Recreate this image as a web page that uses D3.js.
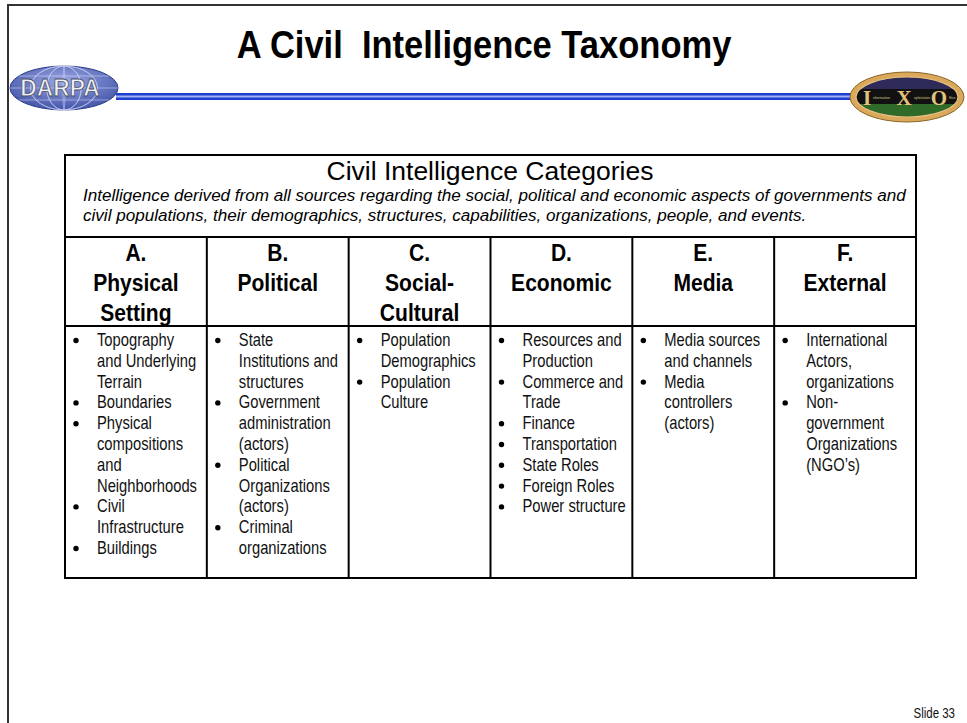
<!DOCTYPE html>
<html><head><meta charset="utf-8">
<script src="https://cdn.jsdelivr.net/npm/d3@7"></script>
<style>
html,body{margin:0;padding:0;background:#fff;}
svg{display:block;}
text{font-family:"Liberation Sans Narrow","Arial Narrow","Liberation Sans",Arial,sans-serif;}
</style></head>
<body>
<svg id="chart" width="967" height="723"></svg>
<script>
// ---- data ----
const slideTitle = "A Civil  Intelligence Taxonomy";
const tableTitle = "Civil Intelligence Categories";
const tableSubtitle = [
  "Intelligence derived from all sources regarding the social, political and economic aspects of governments and",
  "civil populations, their demographics, structures, capabilities, organizations, people, and events."
];
const letters = ["A.", "B.", "C.", "D.", "E.", "F."];
const categoryNames = [["Physical","Setting"],["Political"],["Social-","Cultural"],["Economic"],["Media"],["External"]];
const itemsA = [["Topography","and Underlying","Terrain"],["Boundaries"],["Physical","compositions","and","Neighborhoods"],["Civil","Infrastructure"],["Buildings"]];
const itemsB = [["State","Institutions and","structures"],["Government","administration","(actors)"],["Political","Organizations","(actors)"],["Criminal","organizations"]];
const itemsC = [["Population","Demographics"],["Population","Culture"]];
const itemsD = [["Resources and","Production"],["Commerce and","Trade"],["Finance"],["Transportation"],["State Roles"],["Foreign Roles"],["Power structure"]];
const itemsE = [["Media sources","and channels"],["Media","controllers","(actors)"]];
const itemsF = [["International","Actors,","organizations"],["Non-","government","Organizations","(NGO\u2019s)"]];
const columnItems = [itemsA, itemsB, itemsC, itemsD, itemsE, itemsF];
const slideLabel = "Slide 33";

// ---- drawing ----
const svg = d3.select("#chart");
const defs = svg.append("defs");

// condensed text helper: a group that squeezes the text horizontally
function narrow(parent, x, y, sx) {
  return parent.append("g").attr("transform", `translate(${x},${y}) scale(${sx},1)`);
}

// slide frame
svg.append("rect").attr("x",8).attr("y",5).attr("width",980).attr("height",740)
  .attr("fill","none").attr("stroke","#333").attr("stroke-width",2);

// title
narrow(svg, 484, 58, 0.885).append("text").attr("text-anchor","middle")
  .style("white-space","pre").attr("font-size",39).attr("font-weight","bold").attr("fill","#000")
  .text(slideTitle);

// blue rule
svg.append("rect").attr("x",116).attr("y",93).attr("width",738).attr("height",7).attr("fill","#1d3fd0");
svg.append("rect").attr("x",116).attr("y",95.5).attr("width",738).attr("height",2).attr("fill","#9fb2f0");

// DARPA logo
const gDarpa = defs.append("radialGradient").attr("id","gDarpa").attr("cx","50%").attr("cy","35%").attr("r","65%");
gDarpa.append("stop").attr("offset","0%").attr("stop-color","#9aa8e4");
gDarpa.append("stop").attr("offset","100%").attr("stop-color","#4454a8");
const dar = svg.append("g").attr("transform","translate(64,88)");
dar.append("ellipse").attr("rx",54).attr("ry",22).attr("fill","url(#gDarpa)").attr("stroke","#2c3d8c").attr("stroke-width",1);
[-36,-18,0,18,36].forEach(dx=>{
  dar.append("ellipse").attr("rx",Math.abs(dx)*0.9+1).attr("ry",22).attr("fill","none")
    .attr("stroke","#d0d8f6").attr("stroke-width",0.8).attr("opacity",0.7);
});
[-12,0,12].forEach(dy=>{
  const w = 54*Math.sqrt(1-(dy*dy)/(22*22));
  dar.append("line").attr("x1",-w).attr("x2",w).attr("y1",dy).attr("y2",dy)
    .attr("stroke","#d0d8f6").attr("stroke-width",0.8).attr("opacity",0.7);
});
narrow(dar, -4, 8, 0.95).append("text").attr("text-anchor","middle").attr("font-size",24)
  .attr("font-weight","bold").attr("fill","#eef0f8").attr("stroke","#4a4f66").attr("stroke-width",0.8)
  .text("DARPA");

// IXO logo
const ixo = svg.append("g").attr("transform","translate(907,97)");
ixo.append("ellipse").attr("rx",57).attr("ry",25).attr("fill","#d9a85a").attr("stroke","#8a6428").attr("stroke-width",1);
ixo.append("ellipse").attr("rx",51).attr("ry",20).attr("fill","#2e2a5a");
ixo.append("clipPath").attr("id","ixoClip").append("ellipse").attr("rx",51).attr("ry",20);
const ixoIn = ixo.append("g").attr("clip-path","url(#ixoClip)");
ixoIn.append("rect").attr("x",-52).attr("y",0).attr("width",104).attr("height",21).attr("fill","#2f6a28");
ixoIn.append("rect").attr("x",-52).attr("y",-8).attr("width",104).attr("height",15).attr("fill","#111");
ixo.append("ellipse").attr("rx",51).attr("ry",20).attr("fill","none").attr("stroke","#e8c080").attr("stroke-width",1.2);
[["I",-40],["X",-3],["O",32]].forEach(([t,x])=>{
  ixo.append("text").attr("x",x).attr("y",8).attr("text-anchor","middle").attr("font-size",21)
    .style("font-family","'Liberation Serif','Times New Roman',serif").attr("font-weight","bold").attr("fill","#e3c27a").text(t);
});
[["nformation",-34],["xploitation",7],["ffice",42]].forEach(([t,x])=>{
  ixo.append("text").attr("x",x).attr("y",2).attr("font-size",3.6)
    .attr("fill","#d9c08a").text(t);
});

// table geometry
const tableLeft = 65, tableRight = 916, tableTop = 155, headerBottom = 237, catBottom = 326, tableBottom = 578;
const x = d3.scaleBand().domain(letters).range([tableLeft, tableRight]).padding(0);

// table title + subtitle
svg.append("text").attr("x",490).attr("y",180).attr("text-anchor","middle").attr("font-size",26.5).attr("fill","#000").text(tableTitle);
svg.append("g").selectAll("g").data(tableSubtitle).join("g")
  .attr("transform",(d,i)=>`translate(83,${201+i*19.5}) scale(1.005,1)`)
  .append("text").attr("font-size",17).attr("font-style","italic").attr("fill","#000").text(d=>d);

// category headers
const headers = svg.append("g").selectAll("g").data(letters).join("g")
  .attr("transform",d=>`translate(${x(d)+x.bandwidth()/2},0) scale(0.86,1)`);
headers.append("text").attr("text-anchor","middle").attr("font-size",24.5).attr("font-weight","bold").attr("fill","#000")
  .selectAll("tspan").data((d,i)=>[d].concat(categoryNames[i])).join("tspan")
  .attr("x",0).attr("y",(d,i)=>261.5+i*30).text(d=>d);

// bullet items
const lh = 20.8;
letters.forEach((L,ci)=>{
  const g = svg.append("g").attr("transform",`translate(${x(L)},0)`);
  let row = 0;
  columnItems[ci].forEach(item=>{
    const y0 = 346 + row*lh;
    g.append("circle").attr("cx",11).attr("cy",y0-5.5).attr("r",2.7).attr("fill","#000");
    narrow(g, 32, y0, 0.82).append("text").attr("font-size",18).attr("fill","#111")
      .selectAll("tspan").data(item).join("tspan").attr("x",0).attr("y",(d,i)=>i*lh).text(d=>d);
    row += item.length;
  });
});

// table grid lines
const grid = svg.append("g").attr("stroke","#000").attr("stroke-width",2).attr("fill","none");
grid.append("rect").attr("x",tableLeft).attr("y",tableTop).attr("width",tableRight-tableLeft).attr("height",tableBottom-tableTop);
grid.append("line").attr("x1",tableLeft).attr("x2",tableRight).attr("y1",headerBottom).attr("y2",headerBottom);
grid.append("line").attr("x1",tableLeft).attr("x2",tableRight).attr("y1",catBottom).attr("y2",catBottom);
grid.selectAll("line.v").data(letters.slice(1)).join("line").attr("class","v")
  .attr("x1",d=>x(d)).attr("x2",d=>x(d)).attr("y1",headerBottom).attr("y2",tableBottom);

// slide number
narrow(svg, 955, 718, 0.82).append("text").attr("text-anchor","end").attr("font-size",14).attr("fill","#111").text(slideLabel);
</script>
</body></html>
